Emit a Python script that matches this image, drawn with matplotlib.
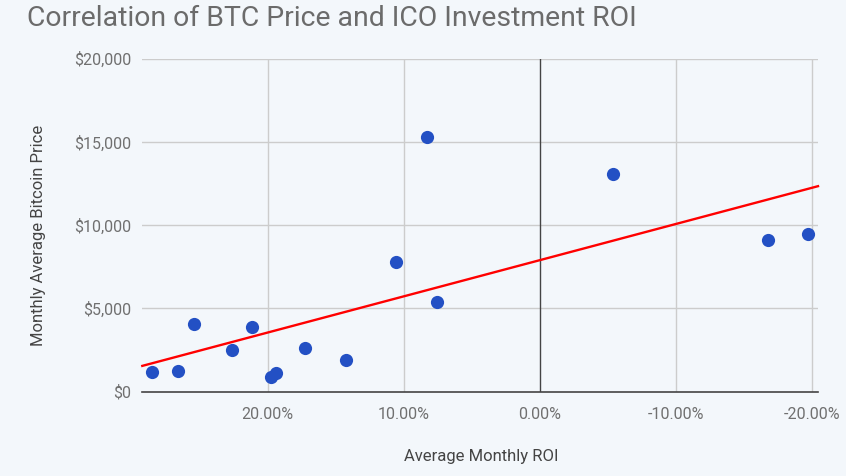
import numpy as np
import matplotlib
matplotlib.use("Agg")
import matplotlib.pyplot as plt
from matplotlib.ticker import FuncFormatter

# Data (ROI in %, BTC price in $)
roi = [28.51, 26.56, 25.41, 22.60, 21.15, 19.71, 19.34, 17.21, 14.25,
       10.53, 8.26, 7.52, -5.42, -16.79, -19.73]
price = [1154, 1232, 4057, 2494, 3876, 889, 1094, 2632, 1893,
         7801, 15278, 5361, 13072, 9105, 9466]
x_ticks = [20, 10, 0, -10, -20]
y_ticks = [0, 5000, 10000, 15000, 20000]

title = "Correlation of BTC Price and ICO Investment ROI"
xlabel = "Average Monthly ROI"
ylabel = "Monthly Average Bitcoin Price"

bg = "#f3f7fb"
plt.rcParams['font.family'] = ['Roboto', 'DejaVu Sans']

fig = plt.figure(figsize=(8.46, 4.76), dpi=100, facecolor=bg)
ax = fig.add_axes([142.3/846, 84.5/476, (818-142.3)/846, (391.5-58.7)/476])
ax.set_facecolor(bg)

xlim = (29.2, -20.45)
ax.set_xlim(*xlim)
ax.set_ylim(0, 20000)

ax.set_xticks(x_ticks)
ax.set_yticks(y_ticks)
ax.xaxis.set_major_formatter(FuncFormatter(lambda v, p: f"{v:.2f}%".replace("\u2212", "-")))
ax.yaxis.set_major_formatter(FuncFormatter(lambda v, p: f"${v:,.0f}"))

for s in ax.spines.values():
    s.set_visible(False)
ax.tick_params(length=0, colors="#707070", labelsize=11.5)
ax.tick_params(axis='x', pad=11)
ax.tick_params(axis='y', pad=8)

# gridlines
for t in x_ticks:
    if t != 0:
        ax.axvline(t, color="#cccccc", lw=1, zorder=0)
for t in y_ticks:
    if t != 0:
        ax.axhline(t, color="#cccccc", lw=1, zorder=0)
ax.axvline(0, color="#444444", lw=1, zorder=1)
ax.axhline(0, color="#444444", lw=1.2, zorder=1, clip_on=False)

# trendline (linear least squares)
m, b = np.polyfit(roi, price, 1)
xx = np.array(xlim)
ax.plot(xx, m*xx + b, color="#ff0000", lw=1.7, zorder=2, clip_on=False)

ax.plot(roi, price, 'o', color="#2350c4", markersize=9.5, markeredgewidth=0, zorder=3)

fig.text(27/846, 1 - 19/476, title, fontsize=20.4, color="#6b6b6b", va="center", ha="left")
fig.text(481/846, 1 - 457/476, xlabel, fontsize=12, color="#444444", ha="center", va="center")
fig.text(38/846, 1 - 235/476, ylabel, fontsize=12, color="#444444", ha="center", va="center", rotation=90)

fig.savefig("out.png", dpi=100, facecolor=bg)
